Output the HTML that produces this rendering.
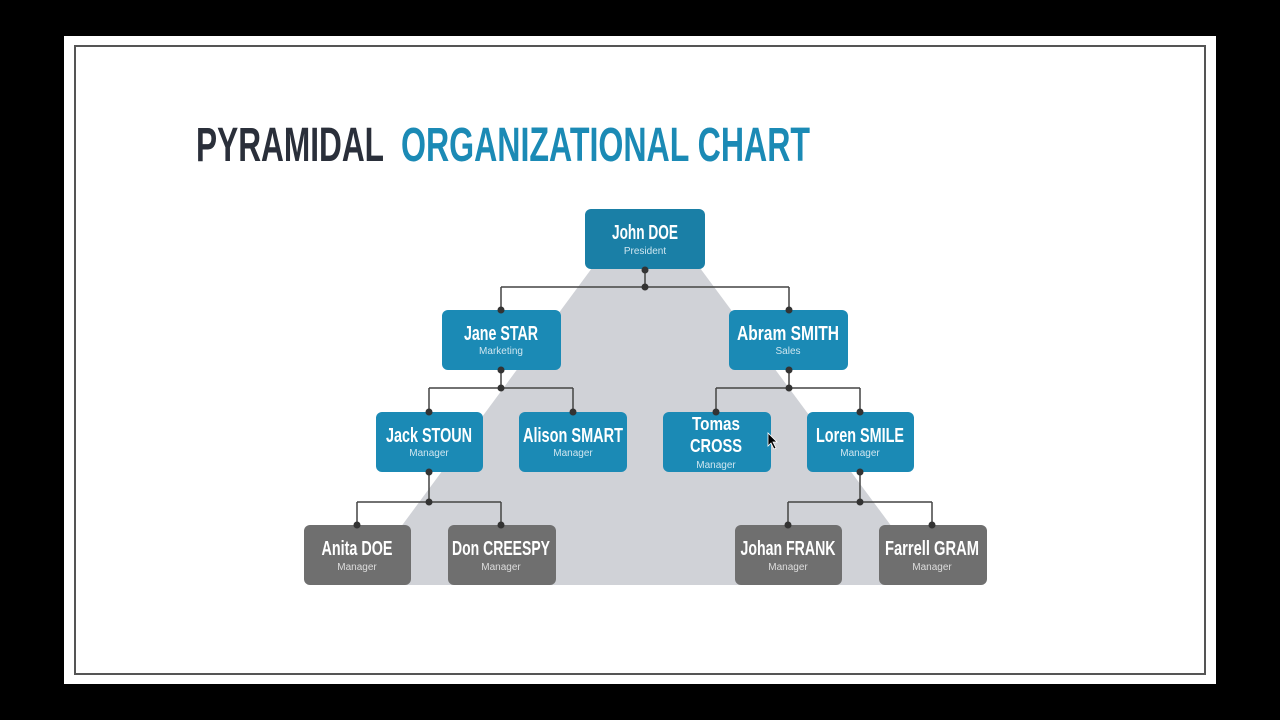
<!DOCTYPE html>
<html><head><meta charset="utf-8"><style>
html,body{margin:0;padding:0;background:#000;width:1280px;height:720px;overflow:hidden}
svg{display:block}
text{font-family:"Liberation Sans",sans-serif}
</style></head><body>
<svg width="1280" height="720" viewBox="0 0 1280 720">
<rect x="0" y="0" width="1280" height="720" fill="#000"/>
<rect x="64" y="36" width="1152" height="648" fill="#fff"/>
<rect x="75" y="46" width="1130" height="628" fill="#fff" stroke="#555" stroke-width="2"/>
<text x="196" y="161" font-size="48" font-weight="bold" fill="#2a2f3a" textLength="188" lengthAdjust="spacingAndGlyphs">PYRAMIDAL</text>
<text x="401" y="161" font-size="48" font-weight="bold" fill="#1b8ab5" textLength="409" lengthAdjust="spacingAndGlyphs">ORGANIZATIONAL CHART</text>
<polygon points="592,268 700,268 935,585 358,585" fill="#d0d2d7"/>
<g stroke="#444" stroke-width="1.5" fill="none">
<path d="M645 269V287M501 287H789M501 287V310M789 287V310"/>
<path d="M501 370V388M429 388H573M429 388V412M573 388V412"/>
<path d="M789 370V388M716 388H860M716 388V412M860 388V412"/>
<path d="M429 472V502M357 502H501M357 502V525M501 502V525"/>
<path d="M860 472V502M788 502H932M788 502V525M932 502V525"/>
</g>
<g>
<rect x="585" y="209" width="120" height="60" rx="6" fill="#1a7fa6"/>
<rect x="442" y="310" width="119" height="60" rx="6" fill="#1b8ab5"/>
<rect x="729" y="310" width="119" height="60" rx="6" fill="#1b8ab5"/>
<rect x="376" y="412" width="107" height="60" rx="6" fill="#1b8ab5"/>
<rect x="519" y="412" width="108" height="60" rx="6" fill="#1b8ab5"/>
<rect x="663" y="412" width="108" height="60" rx="6" fill="#1b8ab5"/>
<rect x="807" y="412" width="107" height="60" rx="6" fill="#1b8ab5"/>
<rect x="304" y="525" width="107" height="60" rx="6" fill="#6f6f6f"/>
<rect x="448" y="525" width="108" height="60" rx="6" fill="#6f6f6f"/>
<rect x="735" y="525" width="107" height="60" rx="6" fill="#6f6f6f"/>
<rect x="879" y="525" width="108" height="60" rx="6" fill="#6f6f6f"/>
</g>
<g fill="#333">
<circle cx="645" cy="270" r="3.5"/><circle cx="645" cy="287" r="3.5"/>
<circle cx="501" cy="310" r="3.5"/><circle cx="789" cy="310" r="3.5"/>
<circle cx="501" cy="370" r="3.5"/><circle cx="501" cy="388" r="3.5"/>
<circle cx="789" cy="370" r="3.5"/><circle cx="789" cy="388" r="3.5"/>
<circle cx="429" cy="412" r="3.5"/><circle cx="573" cy="412" r="3.5"/>
<circle cx="716" cy="412" r="3.5"/><circle cx="860" cy="412" r="3.5"/>
<circle cx="429" cy="472" r="3.5"/><circle cx="429" cy="502" r="3.5"/>
<circle cx="860" cy="472" r="3.5"/><circle cx="860" cy="502" r="3.5"/>
<circle cx="357" cy="525" r="3.5"/><circle cx="501" cy="525" r="3.5"/>
<circle cx="788" cy="525" r="3.5"/><circle cx="932" cy="525" r="3.5"/>
</g>
<g fill="#fff" font-weight="bold" font-size="20" text-anchor="middle">
<text x="645" y="239" textLength="66" lengthAdjust="spacingAndGlyphs">John DOE</text>
<text x="501" y="340" textLength="74" lengthAdjust="spacingAndGlyphs">Jane STAR</text>
<text x="788" y="340" textLength="102" lengthAdjust="spacingAndGlyphs">Abram SMITH</text>
<text x="429" y="442" textLength="86" lengthAdjust="spacingAndGlyphs">Jack STOUN</text>
<text x="573" y="442" textLength="100" lengthAdjust="spacingAndGlyphs">Alison SMART</text>
<text x="716" y="430" font-size="18" textLength="48" lengthAdjust="spacingAndGlyphs">Tomas</text>
<text x="716" y="452" font-size="18" textLength="52" lengthAdjust="spacingAndGlyphs">CROSS</text>
<text x="860" y="442" textLength="88" lengthAdjust="spacingAndGlyphs">Loren SMILE</text>
<text x="357" y="555" textLength="71" lengthAdjust="spacingAndGlyphs">Anita DOE</text>
<text x="501" y="555" textLength="98" lengthAdjust="spacingAndGlyphs">Don CREESPY</text>
<text x="788" y="555" textLength="95" lengthAdjust="spacingAndGlyphs">Johan FRANK</text>
<text x="932" y="555" textLength="94" lengthAdjust="spacingAndGlyphs">Farrell GRAM</text>
</g>
<g fill="#cfe6f0" font-size="10" text-anchor="middle">
<text x="645" y="254">President</text>
<text x="501" y="354">Marketing</text>
<text x="788" y="354">Sales</text>
<text x="429" y="456">Manager</text>
<text x="573" y="456">Manager</text>
<text x="716" y="468">Manager</text>
<text x="860" y="456">Manager</text>
</g>
<g fill="#ddd" font-size="10" text-anchor="middle">
<text x="357" y="570">Manager</text>
<text x="501" y="570">Manager</text>
<text x="788" y="570">Manager</text>
<text x="932" y="570">Manager</text>
</g>
<path d="M768 433 L768 446 L771 443 L774 449 L776 448 L773 442 L777 442 Z" fill="#000" stroke="#fff" stroke-width="0.8"/>
</svg>
</body></html>
